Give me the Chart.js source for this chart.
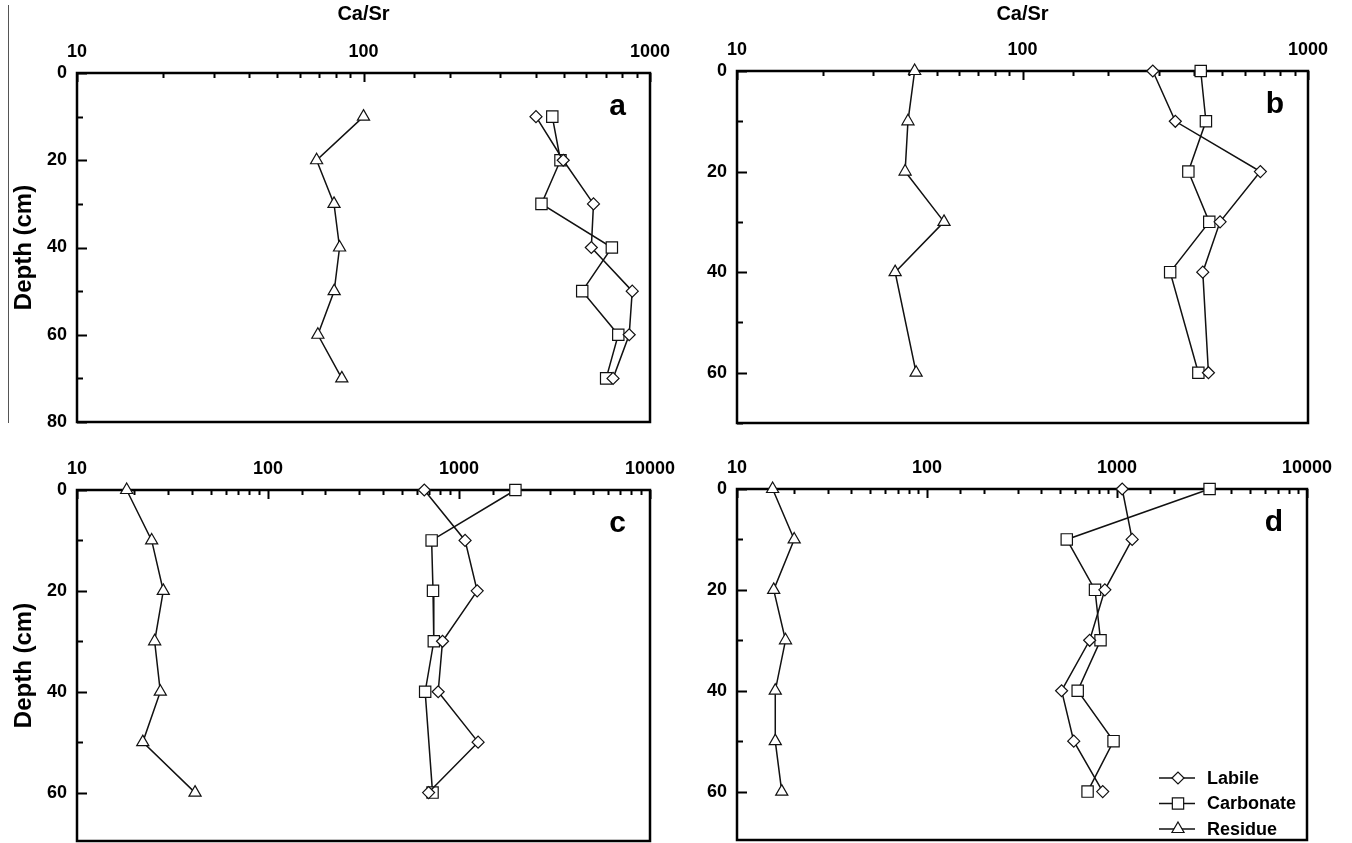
<!DOCTYPE html>
<html>
<head>
<meta charset="utf-8">
<script src="https://cdn.jsdelivr.net/npm/chart.js@4"></script>
<style>
    html, body { margin: 0; padding: 0; background: #fff; }
    body { width: 1352px; height: 843px; position: relative; overflow: hidden; }
    canvas { position: absolute; }
</style>
</head>
<body>
<canvas id="panel-a" width="676" height="440" style="left:0;top:0"></canvas>
<canvas id="panel-b" width="676" height="440" style="left:676px;top:0"></canvas>
<canvas id="panel-c" width="676" height="413" style="left:0;top:430px"></canvas>
<canvas id="panel-d" width="676" height="413" style="left:676px;top:430px"></canvas>
<script>
// Ca/Sr ratios by depth
const depthA = [10, 20, 30, 40, 50, 60, 70];
const labileA = [400, 498, 635, 624, 867, 846, 743];
const carbonateA = [456, 487, 418, 736, 580, 775, 703];
const residueA = [100, 68.6, 78.9, 82.5, 79, 69.3, 84];

const depthB = [0, 10, 20, 30, 40, 60];
const labileB = [286, 343, 681, 492, 428, 448];
const carbonateB = [421, 439, 381, 451, 329, 413];
const residueB = [41.9, 39.7, 38.8, 53.1, 35.8, 42.4];

const depthC = [0, 10, 20, 30, 40, 50, 60];
const labileC = [658, 1076, 1245, 820, 778, 1259, 693];
const carbonateC = [1974, 719, 731, 738, 665, null, 727];
const residueC = [18.2, 24.6, 28.3, 25.5, 27.3, 22.1, 41.5];

const depthD = [0, 10, 20, 30, 40, 50, 60];
const labileD = [1065, 1202, 863, 718, 511, 592, 841];
const carbonateD = [3071, 544, 766, 819, 621, 959, 700];
const residueD = [15.4, 20, 15.6, 18, 15.9, 15.9, 17.2];

// tick labels
const ratioTicksTop = [10, 100, 1000];
const ratioTicksBottom = [10, 100, 1000, 10000];
const depthTicksA = [0, 20, 40, 60, 80];
const depthTicksOther = [0, 20, 40, 60];

const FONT = '"Liberation Sans", Arial, sans-serif';
Chart.defaults.font.family = FONT;
Chart.defaults.color = '#000';

function isDecade(v) {
    const l = Math.log10(v);
    return Math.abs(l - Math.round(l)) < 1e-9;
}

function points(depths, values) {
    return depths.map((d, i) => ({ x: values[i], y: d })).filter(p => p.x != null);
}

function drawMarker(ctx, style, r, x, y) {
    ctx.beginPath();
    if (style === 'rectRot') {
        ctx.moveTo(x - r, y); ctx.lineTo(x, y - r); ctx.lineTo(x + r, y); ctx.lineTo(x, y + r);
    } else if (style === 'rect') {
        const s = r * Math.SQRT1_2;
        ctx.rect(x - s, y - s, 2 * s, 2 * s);
    } else {
        ctx.moveTo(x, y - r);
        ctx.lineTo(x + r * Math.sin(2 * Math.PI / 3), y - r * Math.cos(2 * Math.PI / 3));
        ctx.lineTo(x + r * Math.sin(4 * Math.PI / 3), y - r * Math.cos(4 * Math.PI / 3));
    }
    ctx.closePath();
    ctx.fill();
    ctx.stroke();
}

// frame, inward ticks and the panel letter
const framePlugin = {
    id: 'frame',
    beforeDatasetsDraw(chart, args, opts) {
        const { ctx, chartArea: a, scales: { x, y } } = chart;
        ctx.save();
        ctx.strokeStyle = '#000';
        ctx.lineWidth = 2;
        ctx.beginPath();
        x.ticks.forEach(t => {
            const px = Math.round(x.getPixelForValue(t.value)) + 0.5;
            ctx.moveTo(px, a.top);
            ctx.lineTo(px, a.top + (isDecade(t.value) ? 9 : 5));
        });
        y.ticks.forEach(t => {
            if (t.value % 10 !== 0) return;
            const py = Math.round(y.getPixelForValue(t.value)) + 0.5;
            ctx.moveTo(a.left, py);
            ctx.lineTo(a.left + (t.value % 20 === 0 ? 10 : 6), py);
        });
        ctx.stroke();
        ctx.lineWidth = 2.5;
        ctx.strokeRect(a.left, a.top, a.right - a.left, a.bottom - a.top);
        ctx.fillStyle = '#000';
        ctx.font = 'bold 30px ' + FONT;
        ctx.textAlign = 'right';
        ctx.textBaseline = 'alphabetic';
        ctx.fillText(opts.letter, a.right - 24, a.top + 42);
        if (opts.edgeLine) {
            ctx.strokeStyle = '#555';
            ctx.lineWidth = 1;
            ctx.beginPath();
            ctx.moveTo(8.5, 5);
            ctx.lineTo(8.5, 423);
            ctx.stroke();
        }
        ctx.restore();
    },
    afterDraw(chart, args, opts) {
        if (!opts.legend) return;
        const { ctx, chartArea: a } = chart;
        ctx.save();
        chart.data.datasets.forEach((ds, i) => {
            const cy = a.bottom - 62 + i * 25.5;
            const x0 = a.right - 148;
            ctx.strokeStyle = '#111';
            ctx.lineWidth = 1.5;
            ctx.beginPath();
            ctx.moveTo(x0, cy);
            ctx.lineTo(x0 + 36, cy);
            ctx.stroke();
            ctx.fillStyle = '#fff';
            ctx.lineWidth = 1.2;
            drawMarker(ctx, ds.pointStyle, ds.pointRadius, x0 + 19, cy);
            ctx.fillStyle = '#000';
            ctx.font = 'bold 18px ' + FONT;
            ctx.textAlign = 'left';
            ctx.textBaseline = 'middle';
            ctx.fillText(ds.label, x0 + 48, cy + 1);
        });
        ctx.restore();
    }
};

function makePanel(id, p) {
    const series = [
        { label: 'Labile', values: p.labile, style: 'rectRot', r: 6 },
        { label: 'Carbonate', values: p.carbonate, style: 'rect', r: 8 },
        { label: 'Residue', values: p.residue, style: 'triangle', r: 7 }
    ];
    return new Chart(document.getElementById(id), {
        type: 'scatter',
        data: {
            datasets: series.map(s => ({
                label: s.label,
                data: points(p.depth, s.values),
                showLine: true,
                borderColor: '#111',
                borderWidth: 1.5,
                tension: 0,
                pointStyle: s.style,
                pointRadius: s.r,
                pointBackgroundColor: '#fff',
                pointBorderColor: '#111',
                pointBorderWidth: 1.2,
                clip: false
            }))
        },
        options: {
            responsive: false,
            animation: false,
            devicePixelRatio: 1,
            events: [],
            layout: {
                autoPadding: false,
                padding: { top: 0, left: 0, right: p.padRight, bottom: p.padBottom }
            },
            plugins: {
                legend: { display: false },
                tooltip: { enabled: false },
                frame: { letter: p.letter, legend: p.legend, edgeLine: p.edgeLine }
            },
            scales: {
                x: {
                    type: 'logarithmic',
                    position: 'top',
                    min: 10,
                    max: p.xMax,
                    grid: { display: false, drawTicks: false },
                    border: { display: false },
                    ticks: {
                        autoSkip: false,
                        maxRotation: 0,
                        padding: 10,
                        font: { size: 18, weight: 'bold' },
                        callback: v => p.xTicks.includes(v) ? String(v) : ''
                    },
                    title: {
                        display: !!p.xTitle,
                        text: 'Ca/Sr',
                        font: { size: 20, weight: 'bold' },
                        padding: { top: 2, bottom: 0 }
                    },
                    afterFit: s => {
                        s.height = p.xHeight;
                        s.paddingLeft = 0;
                        s.paddingRight = 0;
                    }
                },
                y: {
                    type: 'linear',
                    reverse: true,
                    min: 0,
                    max: p.yMax,
                    grid: { display: false, drawTicks: false },
                    border: { display: false },
                    ticks: {
                        stepSize: 10,
                        autoSkip: false,
                        padding: 10,
                        font: { size: 18, weight: 'bold' },
                        callback: v => p.yTicks.includes(v) ? String(v) : ''
                    },
                    title: {
                        display: !!p.yTitle,
                        text: 'Depth (cm)',
                        font: { size: 24, weight: 'bold' },
                        padding: { top: 10, bottom: 0 }
                    },
                    afterFit: s => {
                        s.width = p.yWidth;
                        s.paddingTop = 0;
                        s.paddingBottom = 0;
                    }
                }
            }
        },
        plugins: [framePlugin]
    });
}

makePanel('panel-a', {
    depth: depthA, labile: labileA, carbonate: carbonateA, residue: residueA,
    xMax: 1000, xTicks: ratioTicksTop, yMax: 80, yTicks: depthTicksA,
    xTitle: true, yTitle: true, letter: 'a', edgeLine: true,
    yWidth: 77, xHeight: 73, padRight: 26, padBottom: 18
});
makePanel('panel-b', {
    depth: depthB, labile: labileB, carbonate: carbonateB, residue: residueB,
    xMax: 1000, xTicks: ratioTicksTop, yMax: 70, yTicks: depthTicksOther,
    xTitle: true, yTitle: false, letter: 'b',
    yWidth: 61, xHeight: 71, padRight: 44, padBottom: 17
});
makePanel('panel-c', {
    depth: depthC, labile: labileC, carbonate: carbonateC, residue: residueC,
    xMax: 10000, xTicks: ratioTicksBottom, yMax: 69.6, yTicks: depthTicksOther,
    xTitle: false, yTitle: true, letter: 'c',
    yWidth: 77, xHeight: 60, padRight: 26, padBottom: 2
});
makePanel('panel-d', {
    depth: depthD, labile: labileD, carbonate: carbonateD, residue: residueD,
    xMax: 10000, xTicks: ratioTicksBottom, yMax: 69.6, yTicks: depthTicksOther,
    xTitle: false, yTitle: false, letter: 'd', legend: true,
    yWidth: 61, xHeight: 59, padRight: 45, padBottom: 3
});
</script>
</body>
</html>
